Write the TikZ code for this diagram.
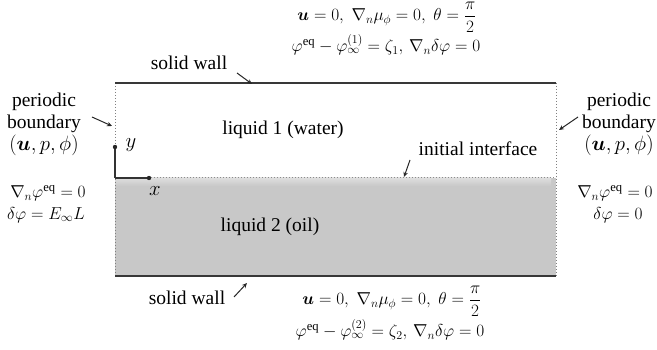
\documentclass[tikz,border=0pt]{standalone}
\usepackage{amsmath}
\usepackage{fontspec}
\setmainfont{Liberation Serif}
\usetikzlibrary{arrows.meta}
\begin{document}
\begin{tikzpicture}[x=1pt,y=-1pt,
  every node/.style={font=\fontsize{19.5}{22}\selectfont, inner sep=0pt},
  mth/.style={font=\fontsize{18}{22}\selectfont},
  wall/.style={line width=1.8pt, draw=black!78},
  side/.style={line width=1pt, draw=black!50, dotted},
  ptr/.style={line width=1pt, draw=black!85, -{Stealth[length=5pt,width=4.5pt]}},
  axis/.style={line width=1.2pt, draw=black!80},
  lbl/.style={align=center}]
\useasboundingbox (0,0) rectangle (657,350);
% corners
\coordinate (TL) at (115,83);
\coordinate (TR) at (556,83);
\coordinate (BL) at (115,276);
\coordinate (BR) at (556,276);
\coordinate (IL) at (115,178);
\coordinate (IR) at (556,178);
% liquid 2 region
\fill[fill={rgb,255:red,200;green,200;blue,200}] (IL) rectangle (BR);
\shade[top color={rgb,255:red,222;green,222;blue,222}, bottom color={rgb,255:red,200;green,200;blue,200}] (IL) rectangle (551,186);
% interface
\draw[line width=1pt, draw=black!45, dotted] (IL) -- (IR);
% sides
\draw[side] (TL) -- (BL);
\draw[side] (TR) -- (BR);
% walls
\draw[wall] (TL) -- (TR);
\draw[wall] (BL) -- (BR);
% axes
\coordinate (xe) at (149,178);
\coordinate (ye) at (115,147);
\draw[axis] (IL) -- (xe);
\draw[axis] (IL) -- (ye);
\fill[black!85] (xe) circle (2.2pt);
\fill[black!85] (ye) circle (2.2pt);
\node (xl) at (155,191) {$x$};
\node (yl) at (131,145) {$y$};
% liquids
\node (liq1) at (283,130) {liquid 1 (water)};
\node (liq2) at (270,227) {liquid 2 (oil)};
% initial interface
\node (ii) at (478,149) {initial interface};
\coordinate (iis) at (410,160);
\coordinate (iie) at (404,177);
\draw[ptr] (iis) -- (iie);
% solid walls
\node (sw1) at (189,63) {solid wall};
\coordinate (sw1s) at (237,73);
\coordinate (sw1e) at (252,84);
\draw[ptr] (sw1s) -- (sw1e);
\node (sw2) at (187,298) {solid wall};
\coordinate (sw2s) at (234,297);
\coordinate (sw2e) at (247,283);
\draw[ptr] (sw2s) -- (sw2e);
% periodic boundaries
\node[lbl] (pbl) at (44,124) {periodic\\boundary\\$(\boldsymbol{u},p,\phi)$};
\coordinate (pbls) at (92,117);
\coordinate (pble) at (112,126);
\draw[ptr] (pbls) -- (pble);
\node[lbl] (pbr) at (619,124) {periodic\\boundary\\$(\boldsymbol{u},p,\phi)$};
\coordinate (pbrs) at (578,117);
\coordinate (pbre) at (559,130);
\draw[ptr] (pbrs) -- (pbre);
% side conditions
\node[mth] (lc1) at (48,193) {$\nabla_n\varphi^{\mathrm{eq}}=0$};
\node[mth] (lc2) at (46,215) {$\delta\varphi=E_\infty L$};
\node[mth] (rc1) at (615,193) {$\nabla_n\varphi^{\mathrm{eq}}=0$};
\node[mth] (rc2) at (618,215) {$\delta\varphi=0$};
% top conditions
\node[mth, anchor=base] (tc1) at (387,21) {$\boldsymbol{u}=0,\;\nabla_n\mu_\phi=0,\;\theta=\dfrac{\pi}{2}$};
\node[mth, anchor=base] (tc2) at (386,52) {$\varphi^{\mathrm{eq}}-\varphi_\infty^{(1)}=\zeta_1,\,\nabla_n\delta\varphi=0$};
% bottom conditions
\node[mth, anchor=base] (bc1) at (392,305) {$\boldsymbol{u}=0,\;\nabla_n\mu_\phi=0,\;\theta=\dfrac{\pi}{2}$};
\node[mth, anchor=base] (bc2) at (390,337) {$\varphi^{\mathrm{eq}}-\varphi_\infty^{(2)}=\zeta_2,\,\nabla_n\delta\varphi=0$};
\end{tikzpicture}
\end{document}
